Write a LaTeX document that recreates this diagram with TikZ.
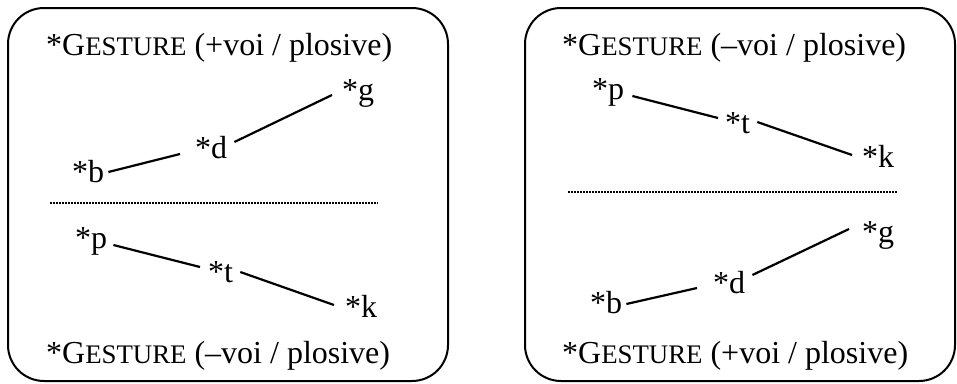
\documentclass[tikz,border=0pt]{standalone}
\usepackage{fontspec}
\setmainfont{Liberation Serif}
\newcommand\gestsc{G{\fontsize{26.8}{30}\selectfont ESTURE}}
\begin{document}
\begin{tikzpicture}[x=1pt,y=-1pt,
  box/.style={draw, line width=2pt, rounded corners=36pt, inner sep=0pt},
  lbl/.style={anchor=base west, inner sep=0pt, font=\fontsize{32}{38}\selectfont},
  conn/.style={line width=2.2pt},
  sep/.style={line width=1.6pt, dash pattern=on 1.6pt off 1.4pt}]
\useasboundingbox (0,0) rectangle (957,383);
% boxes
\node[box, minimum width=440pt, minimum height=373pt] (L) at (228,194.5) {};
\node[box, minimum width=430pt, minimum height=373pt] (R) at (740,194.5) {};
% left box
\node[lbl] (lt1) at (46,55) {*\gestsc{} (+voi / plosive)};
\node[lbl] (lb) at (72,182) {*b};
\node[lbl] (ld) at (195,158) {*d};
\node[lbl] (lg) at (342,100) {*g};
\coordinate (ls1) at (50,203);
\coordinate (ls2) at (378,203);
\draw[sep] (ls1) -- (ls2);
\node[lbl] (lp) at (75,248) {*p};
\node[lbl] (ltt) at (208,282) {*t};
\node[lbl] (lk) at (345,317) {*k};
\node[lbl] (lt2) at (46,363) {*\gestsc{} (–voi / plosive)};
\draw[conn] ([shift={(4,-10)}]lb.base east) -- ([shift={(-15,-4)}]ld.base west);
\draw[conn] ([shift={(7,-16)}]ld.base east) -- ([shift={(-10,-5)}]lg.base west);
\draw[conn] ([shift={(6,-3)}]lp.base east) -- ([shift={(-8,-15)}]ltt.base west);
\draw[conn] ([shift={(7,-10)}]ltt.base east) -- ([shift={(-11,-12)}]lk.base west);
% right box
\node[lbl] (rt1) at (562,55) {*\gestsc{} (–voi / plosive)};
\node[lbl] (rp) at (592,99) {*p};
\node[lbl] (rtt) at (725,133) {*t};
\node[lbl] (rk) at (862,167) {*k};
\coordinate (rs1) at (568,192);
\coordinate (rs2) at (897,192);
\draw[sep] (rs1) -- (rs2);
\node[lbl] (rg) at (862,242) {*g};
\node[lbl] (rd) at (713,293) {*d};
\node[lbl] (rb) at (590,313) {*b};
\node[lbl] (rt2) at (562,363) {*\gestsc{} (+voi / plosive)};
\draw[conn] ([shift={(8,-3)}]rp.base east) -- ([shift={(-7,-15)}]rtt.base west);
\draw[conn] ([shift={(7,-11)}]rtt.base east) -- ([shift={(-10,-12)}]rk.base west);
\draw[conn] ([shift={(4,-9)}]rb.base east) -- ([shift={(-16,-5)}]rd.base west);
\draw[conn] ([shift={(7,-18)}]rd.base east) -- ([shift={(-13,-13)}]rg.base west);
\end{tikzpicture}
\end{document}
